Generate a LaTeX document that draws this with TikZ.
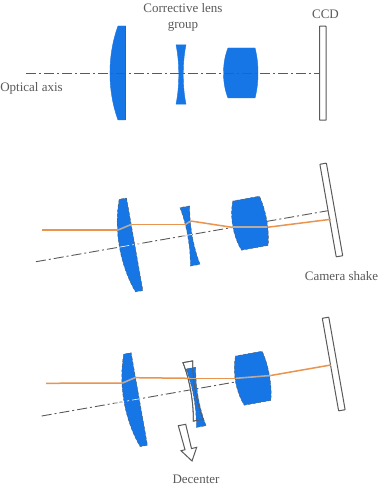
\documentclass[tikz,border=0pt]{standalone}
\usepackage{fontspec}
\usetikzlibrary{calc}
\setmainfont{Liberation Serif}
\definecolor{lensblue}{HTML}{1676E6}
\definecolor{rayorange}{HTML}{E9944F}
\definecolor{inkgray}{HTML}{5A5A5A}
\definecolor{raygray}{HTML}{B5ABA3}
% Element outlines, each drawn around its own local origin
\newcommand{\planoconvex}{(-7.5,-47) .. controls (-18.2,-18) and (-18.2,18) .. (-7.5,47) -- (0,47) -- (0,-47) -- cycle}
\newcommand{\biconcave}{(-5,-29.7) .. controls (-1.3,-12) and (-1.3,12) .. (-5,29.7) -- (5,29.7) .. controls (1.3,12) and (1.3,-12) .. (5,-29.7) -- cycle}
\newcommand{\biconvex}{(-13,-25) .. controls (-19,-10) and (-19,10) .. (-13,25) -- (14,25) .. controls (18,10) and (18,-10) .. (14,-25) -- cycle}
\newcommand{\sensor}{(-3.3,-47) rectangle (3.3,47)}
\tikzset{
  x=1pt, y=-1pt,
  lens/.style={fill=lensblue, draw=lensblue, line width=0.4pt},
  tiltlens/.style={fill=lensblue, draw=inkgray, line width=0.4pt, densely dashed},
  ccd/.style={fill=white, draw=inkgray, line width=1pt, rounded corners=0.5pt},
  axisline/.style={draw=inkgray, line width=0.9pt, dash pattern=on 10pt off 3pt on 2pt off 3pt},
  lightaxis/.style={draw=white, line width=0.6pt, dash pattern=on 10pt off 3pt on 2pt off 3pt},
  ray/.style={draw=rayorange, line width=1.5pt},
  inray/.style={draw=raygray, line width=1.6pt},
  caption/.style={font=\fontsize{13}{15}\selectfont, text=inkgray, inner sep=0pt, align=center},
  block/.style={fill=white, draw=inkgray, line width=1pt},
}
\begin{document}
\begin{tikzpicture}
\useasboundingbox (0,0) rectangle (380,502);
\fill[white] (0,0) rectangle (380,502);

% Centred system
\draw[lens,shift={(125.5,73)}] \planoconvex;
\draw[inkgray,line width=0.6pt] (125.5,26) -- (125.5,120);
\draw[lens,shift={(181,74.5)}] \biconcave;
\draw[lens,shift={(241,73)}] \biconvex;
\draw[ccd,shift={(322.8,73.2)}] \sensor;
\coordinate (axisA1) at (26,73);
\coordinate (axisA2) at (319.5,73);
\draw[axisline] (axisA1) -- (axisA2);
\node[caption] (labelaxis) at (31.5,88.5) {Optical axis};
\node[caption] (labelgroup) at (183,17.5) {Corrective lens\\[1pt]group};
\node[caption] (labelccd) at (325.5,14) {CCD};

% Tilted system
\coordinate (axisB1) at (36,261.7);
\coordinate (axisB2) at (328,210.7);
\draw[axisline] (axisB1) -- (axisB2);
\draw[tiltlens,shift={(134.7,244.3)},rotate=10] \planoconvex;
\draw[tiltlens,shift={(190,236)},rotate=10] \biconcave;
\draw[tiltlens,shift={(250,223.3)},rotate=10] \biconvex;
\draw[lightaxis] ($(axisB1)!0.285!(axisB2)$) -- ($(axisB1)!0.36!(axisB2)$);
\draw[lightaxis] ($(axisB1)!0.5!(axisB2)$) -- ($(axisB1)!0.54!(axisB2)$);
\draw[ccd,shift={(331.3,210)},rotate=10] \sensor;
\coordinate (rayB0) at (41.7,230);
\coordinate (rayB1) at (118,230);
\coordinate (rayB2) at (131.7,224.3);
\coordinate (rayB3) at (185.7,224.3);
\coordinate (rayB4) at (190.7,221);
\coordinate (rayB5) at (232,227.3);
\coordinate (rayB6) at (267.3,227.3);
\coordinate (rayB7) at (330.7,219.3);
\draw[ray] (rayB0) -- (rayB1);
\draw[inray] (rayB1) -- (rayB2);
\draw[ray] (rayB2) -- (rayB3);
\draw[inray] (rayB3) -- (rayB4);
\draw[ray] (rayB4) -- (rayB5);
\draw[inray] (rayB5) -- (rayB6);
\draw[ray] (rayB6) -- (rayB7);
\node[caption] (labelshake) at (341.5,276) {Camera shake};

% Tilted system with the corrective group shifted
\coordinate (axisC1) at (41.7,416);
\coordinate (axisC2) at (238,381.5);
\draw[axisline] (axisC1) -- (axisC2);
\draw[tiltlens,shift={(139.3,399)},rotate=10] \planoconvex;
\draw[block,line width=0.8pt,shift={(193,391)},rotate=10] \biconcave;
\draw[tiltlens,shift={(196,397.3)},rotate=10] \biconcave;
\draw[inkgray,line width=0.8pt,shift={(193,391)},rotate=10] \biconcave;
\draw[tiltlens,shift={(252.7,378.3)},rotate=10] \biconvex;
\draw[lightaxis] ($(axisC1)!0.37!(axisC2)$) -- ($(axisC1)!0.52!(axisC2)$);
\draw[ccd,shift={(333.7,364)},rotate=10] \sensor;
\coordinate (rayC0) at (46,383.3);
\coordinate (rayC1) at (122.5,383);
\coordinate (rayC2) at (135,377.7);
\coordinate (rayC3) at (190,378.3);
\coordinate (rayC4) at (195.7,378.3);
\coordinate (rayC5) at (236,378.3);
\coordinate (rayC6) at (270.7,375.5);
\coordinate (rayC7) at (330.7,365);
\draw[ray] (rayC0) -- (rayC1);
\draw[inray] (rayC1) -- (rayC2);
\draw[ray] (rayC2) -- (rayC3);
\draw[inray] (rayC3) -- (rayC4);
\draw[ray] (rayC4) -- (rayC5);
\draw[inray] (rayC5) -- (rayC6);
\draw[ray] (rayC6) -- (rayC7);
\draw[block] (178.3,425.7) -- (185.7,424.3) -- (191.5,448.6) -- (196.7,447.3) -- (192,461) -- (181,450.7) -- (185,449.7) -- cycle;
\node[caption] (labeldecenter) at (196,479.3) {Decenter};
\end{tikzpicture}
\end{document}
